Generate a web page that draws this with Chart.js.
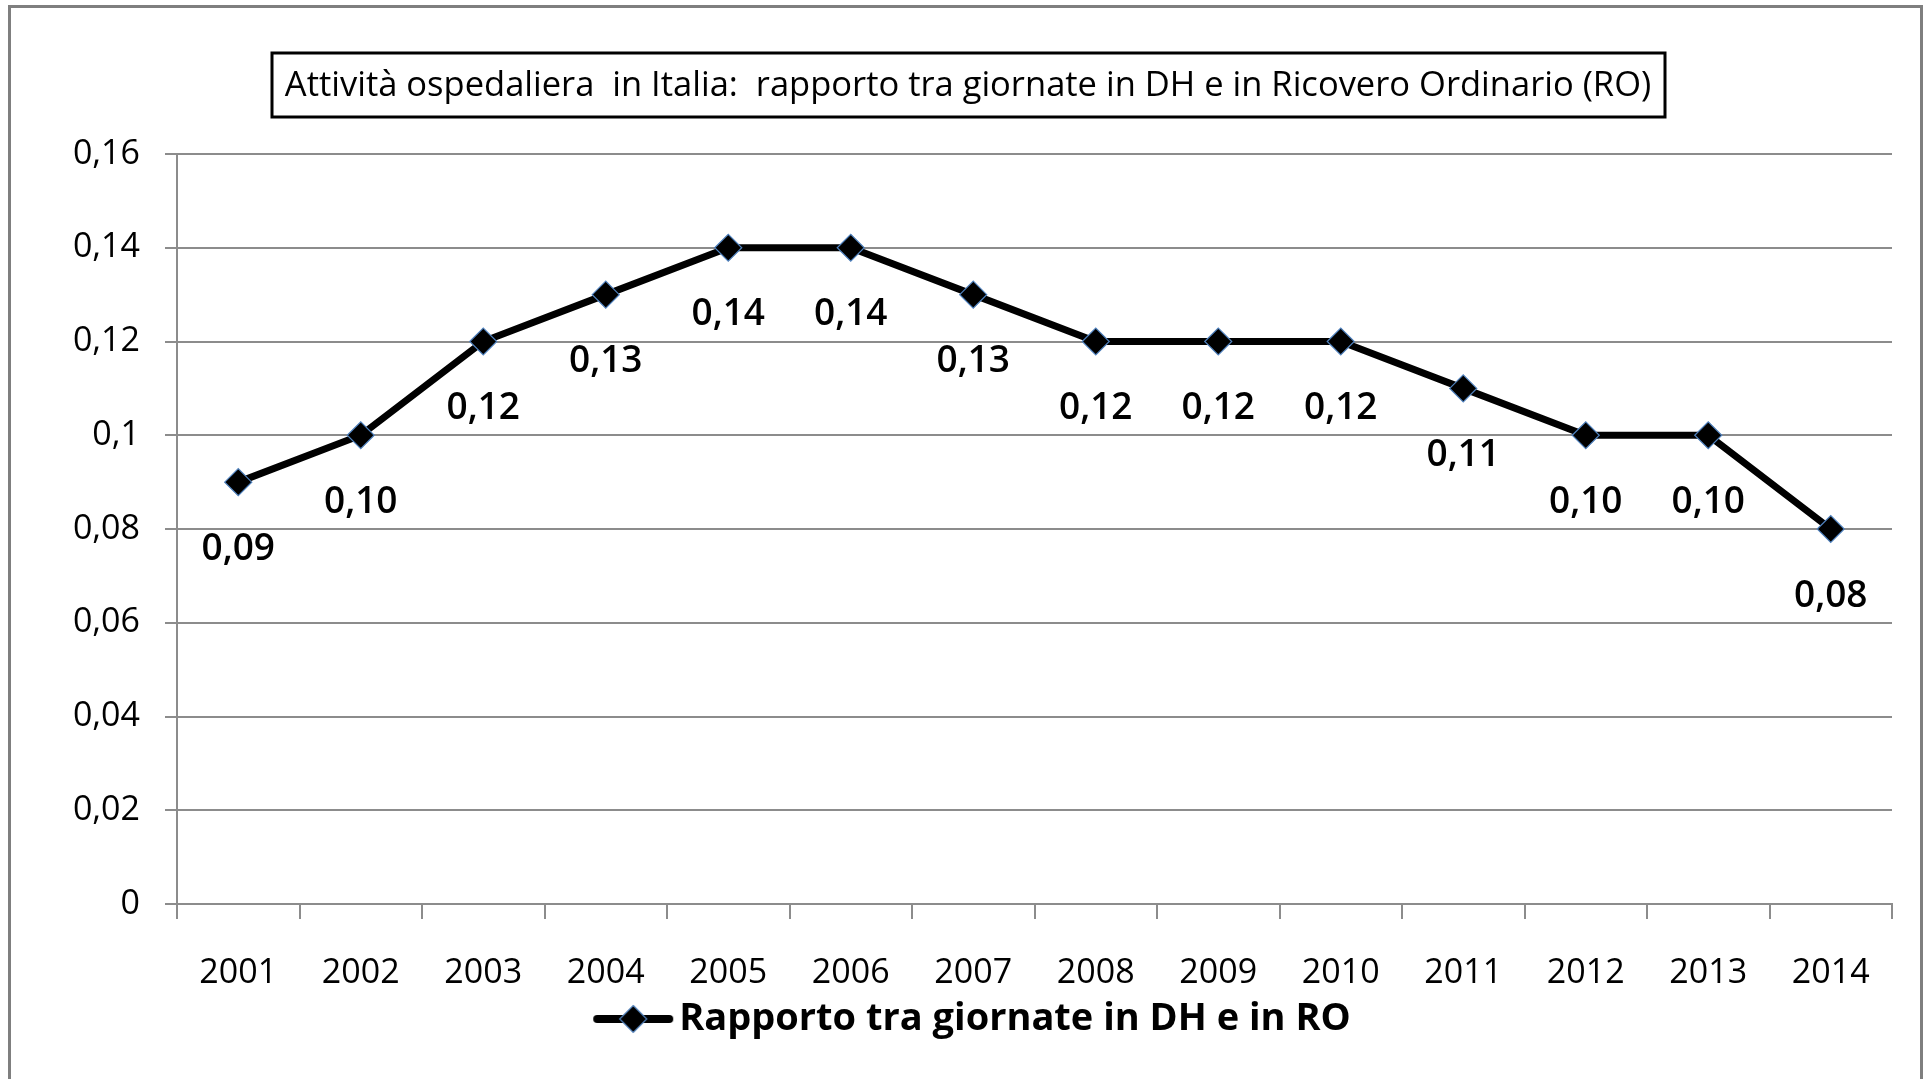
<!DOCTYPE html>
<html>
<head>
<meta charset="utf-8">
<script src="https://cdn.jsdelivr.net/npm/chart.js@4/dist/chart.umd.min.js"></script>
<style>
html, body { margin: 0; background: #fff; }
</style>
</head>
<body>
<canvas id="ratio-chart" width="1926" height="1079"></canvas>
<script>
// data
var years = ['2001', '2002', '2003', '2004', '2005', '2006', '2007', '2008', '2009', '2010', '2011', '2012', '2013', '2014'];
var ratios = [0.09, 0.10, 0.12, 0.13, 0.14, 0.14, 0.13, 0.12, 0.12, 0.12, 0.11, 0.10, 0.10, 0.08];
var seriesLabel = 'Rapporto tra giornate in DH e in RO';
var chartTitle = 'Attività ospedaliera  in Italia:  rapporto tra giornate in DH e in Ricovero Ordinario (RO)';
var yMin = 0, yMax = 0.16, yStep = 0.02;

var FONT = '"Open Sans", Lato, sans-serif';
var GRID = '#8c8c8c';
var LEGEND_BOX = 100;   // room kept for the legend icon

function comma(v, digits) {
    var s = digits === undefined ? String(+v.toFixed(2)) : v.toFixed(digits);
    return s.replace('.', ',');
}

// legend icon: line with a diamond in the middle, pushed to the right side
// of its canvas so it sits just before the legend text
var legendIcon = document.createElement('canvas');
legendIcon.width = LEGEND_BOX + 36;
legendIcon.height = 32;
(function () {
    var g = legendIcon.getContext('2d');
    var x0 = LEGEND_BOX - 49, cx = x0 + 40;
    g.strokeStyle = '#000';
    g.lineWidth = 8;
    g.lineCap = 'round';
    g.beginPath();
    g.moveTo(x0 + 4, 16);
    g.lineTo(x0 + 76, 16);
    g.stroke();
    g.beginPath();
    g.moveTo(cx, 2.5);
    g.lineTo(cx + 13.5, 16);
    g.lineTo(cx, 29.5);
    g.lineTo(cx - 13.5, 16);
    g.closePath();
    g.fillStyle = '#000';
    g.fill();
    g.lineWidth = 1.2;
    g.strokeStyle = '#4f81bd';
    g.stroke();
})();

var framePlugin = {
    id: 'frame',
    beforeDraw: function (chart) {
        var ctx = chart.ctx;
        ctx.save();
        ctx.fillStyle = '#fff';
        ctx.fillRect(0, 0, chart.width, chart.height);
        ctx.strokeStyle = '#7f7f7f';
        ctx.lineWidth = 3;
        ctx.strokeRect(9.5, 6.5, 1912, 1090);
        ctx.restore();
    },
    afterDraw: function (chart) {
        // boxed title
        var ctx = chart.ctx;
        ctx.save();
        ctx.strokeStyle = '#000';
        ctx.lineWidth = 3;
        ctx.strokeRect(272, 53, 1393, 64);
        ctx.fillStyle = '#000';
        ctx.font = '34.5px ' + FONT;
        ctx.textAlign = 'center';
        ctx.textBaseline = 'middle';
        ctx.fillText(chartTitle, 968, 86);
        ctx.restore();
    }
};

var valueLabels = {
    id: 'valueLabels',
    afterDatasetsDraw: function (chart) {
        var ctx = chart.ctx;
        var meta = chart.getDatasetMeta(0);
        ctx.save();
        ctx.fillStyle = '#000';
        ctx.font = '600 37px ' + FONT;
        ctx.textAlign = 'center';
        ctx.textBaseline = 'middle';
        meta.data.forEach(function (pt, i) {
            ctx.fillText(comma(ratios[i], 2), pt.x, pt.y + 67);
        });
        ctx.restore();
    }
};

var config = {
    type: 'line',
    data: {
        labels: years,
        datasets: [{
            label: seriesLabel,
            data: ratios,
            borderColor: '#000',
            borderWidth: 7,
            tension: 0,
            pointStyle: 'rectRot',
            pointRadius: 13.5,
            pointHoverRadius: 13.5,
            pointBackgroundColor: '#000',
            pointBorderColor: '#4f81bd',
            pointBorderWidth: 1.2
        }]
    },
    options: {
        responsive: false,
        animation: false,
        events: [],
        layout: {
            padding: { left: 19, right: 34, top: 154, bottom: 31 }
        },
        scales: {
            x: {
                offset: true,
                afterFit: function (scale) { scale.height = 88; },
                grid: {
                    offset: true,
                    drawOnChartArea: false,
                    drawTicks: true,
                    tickLength: 15,
                    color: GRID,
                    lineWidth: 2
                },
                border: { color: GRID, width: 2 },
                ticks: {
                    color: '#000',
                    font: { family: FONT, size: 34 },
                    padding: 34,
                    maxRotation: 0
                }
            },
            y: {
                min: yMin,
                max: yMax,
                afterFit: function (scale) { scale.width = 158; },
                grid: {
                    color: GRID,
                    lineWidth: 2,
                    tickLength: 12
                },
                border: { color: GRID, width: 2 },
                ticks: {
                    stepSize: yStep,
                    color: '#000',
                    font: { family: FONT, size: 34 },
                    padding: 25,
                    callback: function (v) { return comma(v); }
                }
            }
        },
        plugins: {
            title: { display: false },
            tooltip: { enabled: false },
            legend: {
                display: true,
                position: 'bottom',
                labels: {
                    usePointStyle: true,
                    pointStyleWidth: LEGEND_BOX,
                    padding: 8,
                    color: '#000',
                    font: { family: FONT, size: 38, weight: 'bold' },
                    generateLabels: function (chart) {
                        return [{
                            text: seriesLabel,
                            pointStyle: legendIcon,
                            fillStyle: '#000',
                            strokeStyle: '#000',
                            lineWidth: 0,
                            datasetIndex: 0,
                            fontColor: '#000'
                        }];
                    }
                }
            }
        }
    },
    plugins: [framePlugin, valueLabels]
};

var ratioChart = new Chart(document.getElementById('ratio-chart').getContext('2d'), config);
</script>
</body>
</html>
